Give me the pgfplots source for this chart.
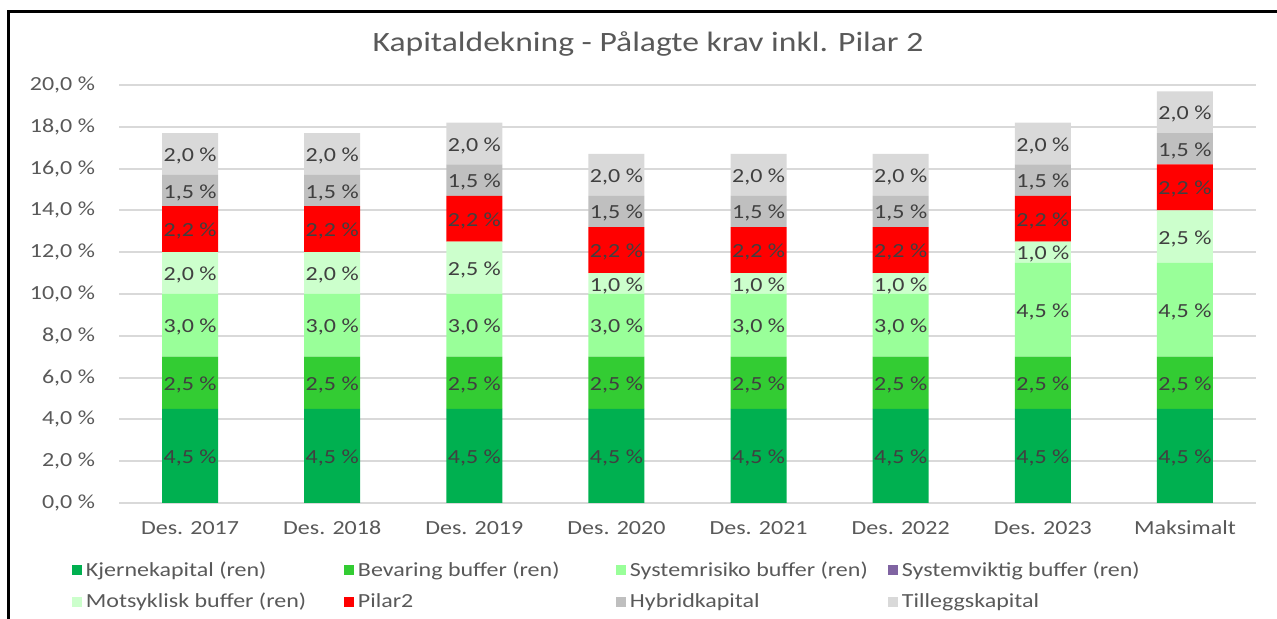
\documentclass[border=0pt]{standalone}
\usepackage{pgfplots}
\pgfplotsset{compat=1.18}
\usepackage{pgfplotstable}
\usepackage{fontspec}
\setmainfont{Carlito}[FakeStretch=1.2]
\definecolor{txt}{HTML}{595959}
\definecolor{lbl}{HTML}{404040}
\definecolor{cK}{HTML}{00B050}
\definecolor{cB}{HTML}{33CC33}
\definecolor{cS}{HTML}{99FF99}
\definecolor{cV}{HTML}{8064A2}
\definecolor{cM}{HTML}{CCFFCC}
\definecolor{cP}{HTML}{FF0000}
\definecolor{cH}{HTML}{BFBFBF}
\definecolor{cT}{HTML}{D9D9D9}
\definecolor{gridc}{HTML}{D9D9D9}

\pgfplotstableread{
x kjerne bevaring sysrisiko sysviktig motsyklisk pilar2 hybrid tillegg
0 4.5 2.5 3.0 0 2.0 2.2 1.5 2.0
1 4.5 2.5 3.0 0 2.0 2.2 1.5 2.0
2 4.5 2.5 3.0 0 2.5 2.2 1.5 2.0
3 4.5 2.5 3.0 0 1.0 2.2 1.5 2.0
4 4.5 2.5 3.0 0 1.0 2.2 1.5 2.0
5 4.5 2.5 3.0 0 1.0 2.2 1.5 2.0
6 4.5 2.5 4.5 0 1.0 2.2 1.5 2.0
7 4.5 2.5 4.5 0 2.5 2.2 1.5 2.0
}\data

\pgfplotsset{
  lab/.style={
    visualization depends on={\thisrow{#1}\as\val},
    nodes near coords={\pgfmathprintnumber[fixed,fixed zerofill,precision=1,use comma]{\val}~\%},
  },
}

\begin{document}
\begin{tikzpicture}[x=0.5pt,y=0.5pt]
\path[use as bounding box] (0,0) rectangle (1277,619);
\draw[black, line width=1.5pt] (8,-10) -- (8,607) -- (1290,607);
\node[text=txt, font=\fontsize{14}{16}\selectfont] at (648,575) {Kapitaldekning - Pålagte krav inkl. Pilar 2};
\begin{axis}[
  at={(59.5pt,58pt)}, anchor=south west,
  width=568.5pt, height=209pt, scale only axis,
  ybar stacked, bar width=28pt,
  xmin=-0.5, xmax=7.5, ymin=0, ymax=20,
  xtick={0,...,7},
  xticklabels={Des. 2017,Des. 2018,Des. 2019,Des. 2020,Des. 2021,Des. 2022,Des. 2023,Maksimalt},
  ytick={0,2,...,20},
  yticklabel={\pgfmathprintnumber[fixed,fixed zerofill,precision=1,use comma]{\tick}~\%},
  /pgf/number format/assume math mode=true,
  ymajorgrids, grid style={draw=gridc, line width=1pt},
  axis line style={draw=none}, tick style={draw=none}, major tick length=0pt,
  tick label style={font=\fontsize{10}{12}\selectfont, text=txt},
  yticklabel style={xshift=-8.5pt},
  xticklabel style={yshift=-5.5pt},
  every node near coord/.append style={anchor=center, yshift=-1pt,
    font=\fontsize{10}{12}\selectfont, text=lbl, inner sep=0pt},
  legend columns=4,
  legend cell align=left,
  legend style={at={(-0.047,-0.12)}, anchor=north west, draw=none, fill=none,
    font=\fontsize{10}{12}\selectfont, text=txt, row sep=3pt,
    /tikz/every even column/.append style={column sep=0pt}},
  legend image code/.code={\fill[#1] (0pt,-2.5pt) rectangle (5pt,2.5pt);},
]
\addplot[fill=cK, draw=none, lab=kjerne] table[x=x,y=kjerne]{\data};
\addlegendentry{\makebox[127pt][l]{Kjernekapital (ren)}}
\addplot[fill=cB, draw=none, lab=bevaring] table[x=x,y=bevaring]{\data};
\addlegendentry{\makebox[127pt][l]{Bevaring buffer (ren)}}
\addplot[fill=cS, draw=none, lab=sysrisiko] table[x=x,y=sysrisiko]{\data};
\addlegendentry{\makebox[127pt][l]{Systemrisiko buffer (ren)}}
\addplot[fill=cV, draw=none] table[x=x,y=sysviktig]{\data};
\addlegendentry{\makebox[127pt][l]{Systemviktig buffer (ren)}}
\addplot[fill=cM, draw=none, lab=motsyklisk] table[x=x,y=motsyklisk]{\data};
\addlegendentry{\makebox[127pt][l]{Motsyklisk buffer (ren)}}
\addplot[fill=cP, draw=none, lab=pilar2] table[x=x,y=pilar2]{\data};
\addlegendentry{\makebox[127pt][l]{Pilar2}}
\addplot[fill=cH, draw=none, lab=hybrid] table[x=x,y=hybrid]{\data};
\addlegendentry{\makebox[127pt][l]{Hybridkapital}}
\addplot[fill=cT, draw=none, lab=tillegg] table[x=x,y=tillegg]{\data};
\addlegendentry{\makebox[127pt][l]{Tilleggskapital}}
\end{axis}
\end{tikzpicture}
\end{document}
